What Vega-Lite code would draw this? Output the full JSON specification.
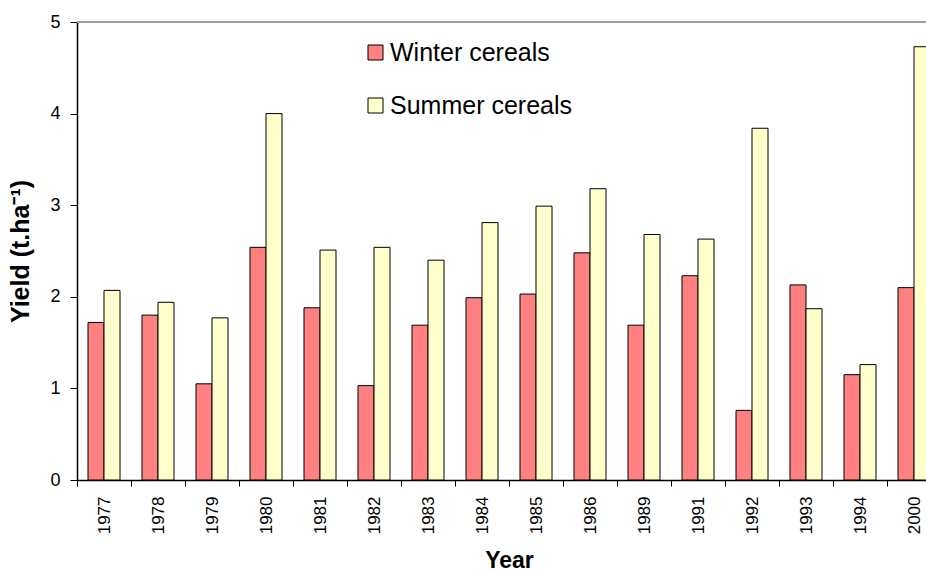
{
  "$schema": "https://vega.github.io/schema/vega-lite/v6.json",
  "width": 849,
  "height": 458,
  "autosize": {"type": "none"},
  "padding": {"left": 77, "top": 22, "right": 0, "bottom": 92},
  "background": "white",
  "config": {
    "view": {"stroke": null},
    "font": "Liberation Sans"
  },
  "data": {
    "values": [
      {"year": "1977", "type": "Winter cereals", "yield": 1.72},
      {"year": "1977", "type": "Summer cereals", "yield": 2.07},
      {"year": "1978", "type": "Winter cereals", "yield": 1.80},
      {"year": "1978", "type": "Summer cereals", "yield": 1.94},
      {"year": "1979", "type": "Winter cereals", "yield": 1.05},
      {"year": "1979", "type": "Summer cereals", "yield": 1.77},
      {"year": "1980", "type": "Winter cereals", "yield": 2.54},
      {"year": "1980", "type": "Summer cereals", "yield": 4.00},
      {"year": "1981", "type": "Winter cereals", "yield": 1.88},
      {"year": "1981", "type": "Summer cereals", "yield": 2.51},
      {"year": "1982", "type": "Winter cereals", "yield": 1.03},
      {"year": "1982", "type": "Summer cereals", "yield": 2.54},
      {"year": "1983", "type": "Winter cereals", "yield": 1.69},
      {"year": "1983", "type": "Summer cereals", "yield": 2.40},
      {"year": "1984", "type": "Winter cereals", "yield": 1.99},
      {"year": "1984", "type": "Summer cereals", "yield": 2.81},
      {"year": "1985", "type": "Winter cereals", "yield": 2.03},
      {"year": "1985", "type": "Summer cereals", "yield": 2.99},
      {"year": "1986", "type": "Winter cereals", "yield": 2.48},
      {"year": "1986", "type": "Summer cereals", "yield": 3.18},
      {"year": "1989", "type": "Winter cereals", "yield": 1.69},
      {"year": "1989", "type": "Summer cereals", "yield": 2.68},
      {"year": "1991", "type": "Winter cereals", "yield": 2.23},
      {"year": "1991", "type": "Summer cereals", "yield": 2.63},
      {"year": "1992", "type": "Winter cereals", "yield": 0.76},
      {"year": "1992", "type": "Summer cereals", "yield": 3.84},
      {"year": "1993", "type": "Winter cereals", "yield": 2.13},
      {"year": "1993", "type": "Summer cereals", "yield": 1.87},
      {"year": "1994", "type": "Winter cereals", "yield": 1.15},
      {"year": "1994", "type": "Summer cereals", "yield": 1.26},
      {"year": "2000", "type": "Winter cereals", "yield": 2.10},
      {"year": "2000", "type": "Summer cereals", "yield": 4.73}
    ]
  },
  "layer": [
    {
      "mark": {"type": "rule", "color": "#a0a0a0", "strokeWidth": 1.5},
      "encoding": {"y": {"datum": 5, "type": "quantitative"}}
    },
    {
      "mark": {"type": "bar", "stroke": "black", "strokeWidth": 1},
      "encoding": {
        "x": {
          "field": "year",
          "type": "nominal",
          "sort": null,
          "scale": {"range": [0, 864], "paddingInner": 0, "paddingOuter": 0},
          "axis": {
            "title": "Year",
            "titleFontSize": 23,
            "titleFontWeight": "bold",
            "titleColor": "black",
            "titlePadding": 16,
            "labelAngle": -90,
            "labelFontSize": 17,
            "labelColor": "black",
            "labelPadding": 10,
            "labelBaseline": "middle",
            "tickBand": "extent",
            "tickSize": 6,
            "tickColor": "black",
            "domainColor": "black",
            "domainWidth": 1.5,
            "grid": false
          }
        },
        "xOffset": {
          "field": "type",
          "type": "nominal",
          "sort": ["Winter cereals", "Summer cereals"],
          "scale": {"paddingInner": 0, "paddingOuter": 0.6875}
        },
        "y": {
          "field": "yield",
          "type": "quantitative",
          "scale": {"domain": [0, 5], "nice": false},
          "axis": {
            "title": "Yield (t.ha⁻¹)",
            "titleFontSize": 25,
            "titleFontWeight": "bold",
            "titleColor": "black",
            "titlePadding": 16,
            "values": [0, 1, 2, 3, 4, 5],
            "format": "d",
            "labelFontSize": 18,
            "labelColor": "black",
            "labelPadding": 10,
            "tickSize": 7,
            "tickColor": "black",
            "domainColor": "black",
            "domainWidth": 1.5,
            "grid": false
          }
        },
        "color": {
          "field": "type",
          "type": "nominal",
          "sort": ["Winter cereals", "Summer cereals"],
          "scale": {"domain": ["Winter cereals", "Summer cereals"], "range": ["#ff8080", "#ffffcc"]},
          "legend": {
            "title": null,
            "orient": "none",
            "legendX": 286,
            "legendY": 18,
            "symbolType": "square",
            "symbolSize": 225,
            "symbolStrokeColor": "black",
            "symbolStrokeWidth": 1,
            "symbolOpacity": 1,
            "labelFontSize": 25,
            "labelLimit": 0,
            "labelColor": "black",
            "labelOffset": 2,
            "rowPadding": 27
          }
        }
      }
    }
  ]
}
